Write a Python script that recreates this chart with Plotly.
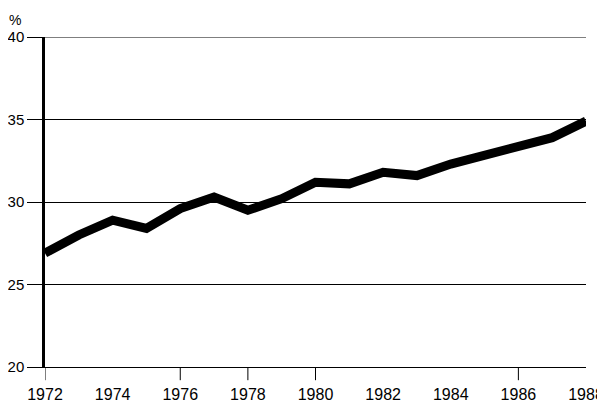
import plotly.graph_objects as go

years = list(range(1972, 1989))
values = [26.9, 28.0, 28.9, 28.4, 29.6, 30.3, 29.5, 30.2, 31.2, 31.1, 31.8, 31.6, 32.3, 32.8, 33.3, 33.9, 34.9]
label_years = [1972, 1974, 1976, 1978, 1980, 1982, 1984, 1986, 1988]
tick_years = [1972, 1976, 1978, 1980, 1986]
y_ticks = [20, 25, 30, 35, 40]

font = dict(family="Liberation Sans, Arial, sans-serif", size=16, color="black")
yfont = dict(family="Liberation Sans, Arial, sans-serif", size=15, color="black")
pfont = dict(family="Liberation Sans, Arial, sans-serif", size=14, color="black")

fig = go.Figure()
fig.add_trace(go.Scatter(x=years, y=values, mode="lines",
                         line=dict(color="black", width=9), showlegend=False,
                         hoverinfo="skip"))

shapes = [dict(type="line", xref="x", yref="paper", x0=yr, x1=yr, y0=0, y1=-0.04,
               line=dict(color="black", width=1)) for yr in tick_years]
# top gridline at the upper end of the y range
shapes.append(dict(type="line", xref="paper", yref="y", x0=0, x1=1,
                   y0=y_ticks[-1], y1=y_ticks[-1], line=dict(color="black", width=1),
                   layer="below"))

# the page body has an 8px margin, so the figure is sized to fit the window
fig.update_layout(
    width=597, height=400,
    margin=dict(l=37, r=19, t=29, b=41, autoexpand=False),
    plot_bgcolor="white", paper_bgcolor="white",
    font=font,
    xaxis=dict(range=[1972, 1988], tickvals=label_years,
               ticktext=[str(y) for y in label_years],
               ticks="", ticklabelstandoff=13, showgrid=False,
               showline=True, linecolor="black", linewidth=1,
               zeroline=False, tickfont=font, automargin=False),
    yaxis=dict(range=[20, 40], tickvals=y_ticks,
               ticks="outside", ticklen=15, tickwidth=1, tickcolor="black",
               showgrid=True, gridcolor="black", gridwidth=1,
               showline=True, linecolor="black", linewidth=2.5,
               zeroline=False, tickfont=yfont, automargin=False),
    shapes=shapes,
    annotations=[dict(text="%", x=-0.055, y=1.082, xref="paper", yref="paper",
                      xanchor="center", yanchor="top", showarrow=False,
                      font=pfont)],
)

fig.write_html("out.html")
